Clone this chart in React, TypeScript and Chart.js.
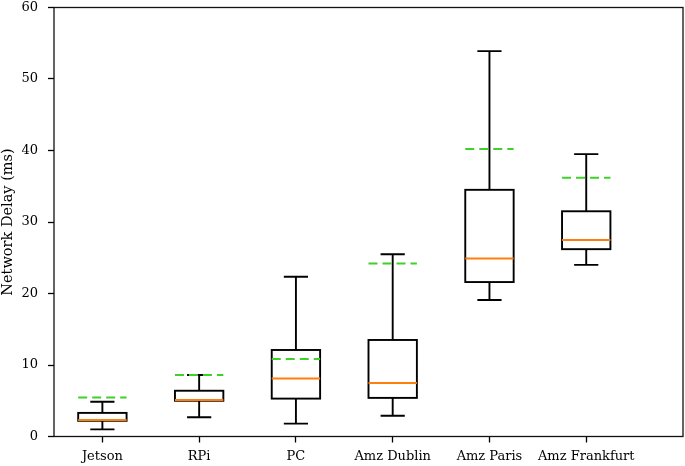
import React, { useEffect, useRef } from "react";
import { Chart, registerables } from "chart.js";

Chart.register(...registerables);

const categories = ["Jetson", "RPi", "PC", "Amz Dublin", "Amz Paris", "Amz Frankfurt"];
const whiskerLow = [1.0, 2.7, 1.8, 2.9, 19.1, 24.0];
const q1 = [2.2, 5.0, 5.3, 5.4, 21.6, 26.2];
const median = [2.3, 5.1, 8.1, 7.5, 24.9, 27.5];
const q3 = [3.3, 6.4, 12.1, 13.5, 34.5, 31.5];
const whiskerHigh = [4.85, 8.6, 22.35, 25.5, 53.9, 39.5];
const mean = [5.45, 8.6, 10.85, 24.2, 40.2, 36.2];
const yTicks = [0, 10, 20, 30, 40, 50, 60];

const BOX_WIDTH = 0.5; // in category units
const CAP_WIDTH = 0.25;
const FONT = "'DejaVu Serif', serif";

const boxPlugin = {
  id: "boxExtras",
  afterDatasetsDraw(chart: any) {
    const { ctx, scales } = chart;
    const x = scales.x;
    const y = scales.y;
    ctx.save();
    categories.forEach((_, i) => {
      const pos = i + 1;
      const cx = x.getPixelForValue(pos);
      const bl = x.getPixelForValue(pos - BOX_WIDTH / 2);
      const br = x.getPixelForValue(pos + BOX_WIDTH / 2);
      const cl = x.getPixelForValue(pos - CAP_WIDTH / 2);
      const cr = x.getPixelForValue(pos + CAP_WIDTH / 2);
      ctx.strokeStyle = "#000";
      ctx.lineWidth = 1.9;
      ctx.setLineDash([]);
      ctx.beginPath();
      ctx.moveTo(cx, y.getPixelForValue(q3[i]));
      ctx.lineTo(cx, y.getPixelForValue(whiskerHigh[i]));
      ctx.moveTo(cx, y.getPixelForValue(q1[i]));
      ctx.lineTo(cx, y.getPixelForValue(whiskerLow[i]));
      ctx.moveTo(cl, y.getPixelForValue(whiskerHigh[i]));
      ctx.lineTo(cr, y.getPixelForValue(whiskerHigh[i]));
      ctx.moveTo(cl, y.getPixelForValue(whiskerLow[i]));
      ctx.lineTo(cr, y.getPixelForValue(whiskerLow[i]));
      ctx.stroke();
      const yt = y.getPixelForValue(q3[i]);
      const yb = y.getPixelForValue(q1[i]);
      ctx.strokeRect(bl, yt, br - bl, yb - yt);
      ctx.strokeStyle = "#ff7f0e";
      ctx.lineWidth = 2;
      ctx.beginPath();
      ctx.moveTo(bl, y.getPixelForValue(median[i]));
      ctx.lineTo(br, y.getPixelForValue(median[i]));
      ctx.stroke();
      ctx.strokeStyle = "#3fd12a";
      ctx.setLineDash([9, 5]);
      ctx.beginPath();
      ctx.moveTo(bl, y.getPixelForValue(mean[i]));
      ctx.lineTo(br, y.getPixelForValue(mean[i]));
      ctx.stroke();
    });
    ctx.restore();
  },
  afterDraw(chart: any) {
    const { ctx, chartArea } = chart;
    ctx.save();
    ctx.strokeStyle = "#111";
    ctx.lineWidth = 1.3;
    ctx.strokeRect(chartArea.left, chartArea.top, chartArea.right - chartArea.left, chartArea.bottom - chartArea.top);
    ctx.restore();
  },
};

export default function App() {
  const ref = useRef<HTMLCanvasElement>(null);
  useEffect(() => {
    if (!ref.current) return;
    const chart = new Chart(ref.current, {
      type: "line",
      data: { datasets: [] },
      options: {
        animation: false,
        responsive: true,
        maintainAspectRatio: false,
        layout: { padding: { top: 7.5, right: 2, left: 0, bottom: 0 } },
        plugins: { legend: { display: false }, tooltip: { enabled: false } },
        scales: {
          x: {
            type: "linear",
            min: 0.5,
            max: 7,
            afterBuildTicks: (scale: any) => {
              scale.ticks = categories.map((_, i) => ({ value: i + 1 }));
            },
            afterFit: (scale: any) => {
              scale.height = 29.5;
              scale.paddingLeft = 0;
              scale.paddingRight = 0;
            },
            ticks: {
              autoSkip: false,
              maxRotation: 0,
              padding: 6,
              color: "#000",
              font: { family: FONT, size: 13 },
              callback: (v: any) => categories[Number(v) - 1] ?? "",
            },
            grid: { drawOnChartArea: false, drawTicks: true, tickLength: 6, tickColor: "#000", tickWidth: 1.3 },
            border: { display: false },
          },
          y: {
            type: "linear",
            min: 0,
            max: 60,
            afterBuildTicks: (scale: any) => {
              scale.ticks = yTicks.map((v) => ({ value: v }));
            },
            afterFit: (scale: any) => {
              scale.width = 54;
              scale.paddingTop = 0;
              scale.paddingBottom = 0;
            },
            ticks: {
              padding: 10,
              color: "#000",
              font: { family: FONT, size: 13 },
            },
            grid: { drawOnChartArea: false, drawTicks: true, tickLength: 6, tickColor: "#000", tickWidth: 1.3 },
            border: { display: false },
            title: {
              display: true,
              text: "Network Delay (ms)",
              color: "#000",
              font: { family: FONT, size: 14.5 },
              padding: { top: 0, bottom: 0 },
            },
          },
        },
      },
      plugins: [boxPlugin],
    });
    return () => chart.destroy();
  }, []);
  return (
    <div style={{ position: "fixed", left: 0, top: 0, width: 685, height: 466, background: "#fff" }}>
      <canvas ref={ref} />
    </div>
  );
}
